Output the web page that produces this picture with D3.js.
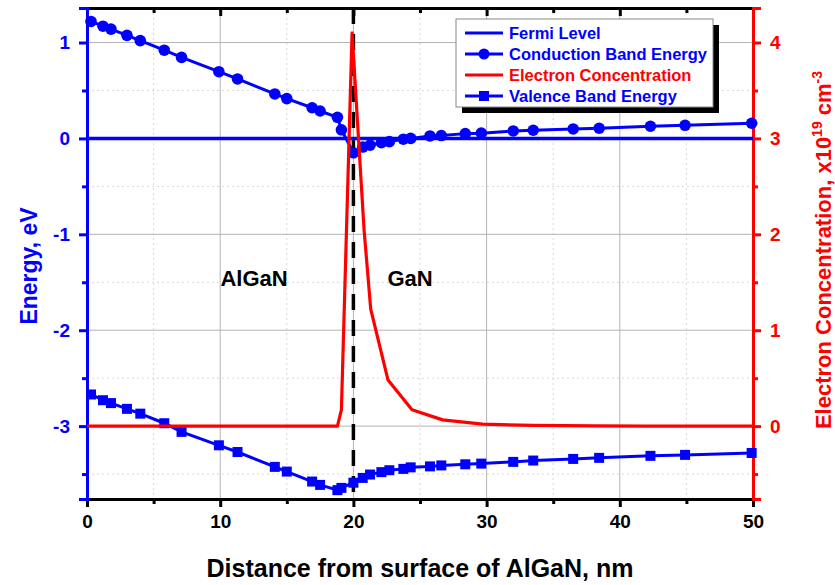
<!DOCTYPE html>
<html>
<head>
<meta charset="utf-8">
<script src="https://cdn.jsdelivr.net/npm/d3@7"></script>
<style>
  body { margin: 0; background: #fff; }
  svg { font-family: Arial, "Liberation Sans", sans-serif; font-weight: bold; }
</style>
</head>
<body>
<svg id="chart" width="835" height="585"></svg>
<script>
// band diagram samples (distance in nm, energies in eV)
const distance = [0.3, 1.2, 1.8, 3.0, 4.0, 5.8, 7.1, 9.9, 11.3, 14.1, 15.0, 16.9, 17.5, 18.8, 19.1,
  20.0, 20.7, 21.25, 22.1, 22.7, 23.75, 24.3, 25.75, 26.6, 28.4, 29.6, 32.0, 33.5, 36.5, 38.45, 42.3, 44.9, 49.9];
const conduction = [1.22, 1.17, 1.14, 1.075, 1.02, 0.92, 0.845, 0.696, 0.62, 0.464, 0.415, 0.32, 0.286, 0.22, 0.09,
  -0.15, -0.09, -0.07, -0.045, -0.033, -0.008, 0.0, 0.026, 0.03, 0.05, 0.055, 0.078, 0.085, 0.099, 0.106, 0.127, 0.137, 0.158];
const valence = [-2.67, -2.73, -2.76, -2.82, -2.87, -2.97, -3.06, -3.20, -3.27, -3.425, -3.474, -3.578, -3.613, -3.668, -3.644,
  -3.59, -3.54, -3.505, -3.48, -3.46, -3.446, -3.43, -3.42, -3.41, -3.398, -3.391, -3.373, -3.359, -3.342, -3.331, -3.31, -3.30, -3.28];
const fermiX = [0, 50];
const fermiE = [0, 0];
// electron concentration, x10^19 cm^-3
const concX = [0, 5, 10, 15, 18.8, 19.1, 19.9, 20.8, 21.3, 22.6, 24.4, 26.7, 29.7, 33.5, 38, 42, 50];
const concN = [0, 0, 0, 0, 0, 0.17, 4.1, 2.05, 1.22, 0.48, 0.17, 0.065, 0.02, 0.008, 0.003, 0, 0];

const xTicks = [0, 10, 20, 30, 40, 50];
const eTicks = [-3, -2, -1, 0, 1];
const nTicks = [0, 1, 2, 3, 4];

const svg = d3.select("#chart");
const mLeft = 87, mRight = 753, mTop = 8, mBottom = 499;
const blue = "#0000ff", red = "#ff0000";
const fmt = d => String(d);

const x = d3.scaleLinear().domain([0, 50]).range([mLeft, mRight]);
const yE = d3.scaleLinear().domain([-3.76, 1.36]).range([mBottom, mTop]);
const yN = d3.scaleLinear().domain([-0.76, 4.36]).range([mBottom, mTop]);

// grid
const minorX = d3.range(5, 50, 10);
const minorE = d3.range(-3.5, 1.4, 1);
svg.append("g").selectAll("line").data(minorX).join("line")
  .attr("x1", d => x(d)).attr("x2", d => x(d)).attr("y1", mTop).attr("y2", mBottom)
  .attr("stroke", "#d8d8d8").attr("stroke-dasharray", "2,3");
svg.append("g").selectAll("line").data(minorE).join("line")
  .attr("x1", mLeft).attr("x2", mRight).attr("y1", d => yE(d)).attr("y2", d => yE(d))
  .attr("stroke", "#d8d8d8").attr("stroke-dasharray", "2,3");
svg.append("g").selectAll("line").data(xTicks.slice(1, -1)).join("line")
  .attr("x1", d => x(d)).attr("x2", d => x(d)).attr("y1", mTop).attr("y2", mBottom)
  .attr("stroke", "#b4b4b4");
svg.append("g").selectAll("line").data(eTicks).join("line")
  .attr("x1", mLeft).attr("x2", mRight).attr("y1", d => yE(d)).attr("y2", d => yE(d))
  .attr("stroke", "#b4b4b4");

// axes
const xAxis = svg.append("g").attr("transform", `translate(0,${mBottom})`)
  .call(d3.axisBottom(x).tickValues(xTicks).tickSize(8).tickPadding(8).tickFormat(fmt));
const xMinor = svg.append("g").attr("transform", `translate(0,${mBottom})`)
  .call(d3.axisBottom(x).tickValues(minorX).tickSize(5).tickFormat(""));
const topAxis = svg.append("g").attr("transform", `translate(0,${mTop})`)
  .call(d3.axisBottom(x).tickValues(xTicks).tickSize(8).tickFormat(""));
const topMinor = svg.append("g").attr("transform", `translate(0,${mTop})`)
  .call(d3.axisBottom(x).tickValues(minorX).tickSize(5).tickFormat(""));
[xAxis, xMinor, topAxis, topMinor].forEach(g => g.selectAll("path,line").attr("stroke", "#000").attr("stroke-width", 3));
xAxis.selectAll("text").attr("fill", "#000").style("font-size", "19px").style("font-weight", "bold");

const leftAxis = svg.append("g").attr("transform", `translate(${mLeft},0)`)
  .call(d3.axisLeft(yE).tickValues(eTicks).tickSize(8).tickPadding(9).tickFormat(fmt));
const leftMinor = svg.append("g").attr("transform", `translate(${mLeft},0)`)
  .call(d3.axisLeft(yE).tickValues(minorE).tickSize(5).tickFormat(""));
[leftAxis, leftMinor].forEach(g => g.selectAll("path,line").attr("stroke", blue).attr("stroke-width", 3));
leftAxis.selectAll("text").attr("fill", blue).style("font-size", "19px").style("font-weight", "bold");

const nMinor = [-0.5, 0.5, 1.5, 2.5, 3.5];
const rightAxis = svg.append("g").attr("transform", `translate(${mRight},0)`)
  .call(d3.axisRight(yN).tickValues(nTicks).tickSize(8).tickPadding(9).tickFormat(fmt));
const rightMinor = svg.append("g").attr("transform", `translate(${mRight},0)`)
  .call(d3.axisRight(yN).tickValues(nMinor).tickSize(5).tickFormat(""));
[rightAxis, rightMinor].forEach(g => g.selectAll("path,line").attr("stroke", red).attr("stroke-width", 3));
rightAxis.selectAll("text").attr("fill", red).style("font-size", "19px").style("font-weight", "bold");

// interface line
svg.append("line")
  .attr("x1", x(20)).attr("x2", x(20)).attr("y1", mTop).attr("y2", mBottom)
  .attr("stroke", "#000").attr("stroke-width", 3.5).attr("stroke-dasharray", "16,10");

// series
const lineE = d3.line().x(d => x(d[0])).y(d => yE(d[1]));
const lineN = d3.line().x(d => x(d[0])).y(d => yN(d[1]));

svg.append("path").datum(d3.zip(fermiX, fermiE)).attr("d", lineE)
  .attr("fill", "none").attr("stroke", blue).attr("stroke-width", 3.5);

const cb = d3.zip(distance, conduction);
svg.append("path").datum(cb).attr("d", lineE)
  .attr("fill", "none").attr("stroke", blue).attr("stroke-width", 3);
svg.append("g").selectAll("circle").data(cb).join("circle")
  .attr("cx", d => x(d[0])).attr("cy", d => yE(d[1])).attr("r", 5.8).attr("fill", blue);

const vb = d3.zip(distance, valence);
svg.append("path").datum(vb).attr("d", lineE)
  .attr("fill", "none").attr("stroke", blue).attr("stroke-width", 3);
svg.append("g").selectAll("rect").data(vb).join("rect")
  .attr("x", d => x(d[0]) - 5).attr("y", d => yE(d[1]) - 5)
  .attr("width", 10).attr("height", 10).attr("fill", blue);

svg.append("path").datum(d3.zip(concX, concN)).attr("d", lineN)
  .attr("fill", "none").attr("stroke", red).attr("stroke-width", 3.2).attr("stroke-linejoin", "round");

// region labels
svg.append("text").attr("x", 254).attr("y", 286).attr("text-anchor", "middle")
  .style("font-size", "22px").text("AlGaN");
svg.append("text").attr("x", 410).attr("y", 286).attr("text-anchor", "middle")
  .style("font-size", "22px").text("GaN");

// axis titles
svg.append("text").attr("x", 420).attr("y", 577).attr("text-anchor", "middle")
  .style("font-size", "25px").text("Distance from surface of AlGaN, nm");
svg.append("text").attr("transform", "translate(37,266) rotate(-90)").attr("text-anchor", "middle")
  .attr("fill", blue).style("font-size", "23px").text("Energy, eV");
const rt = svg.append("text").attr("transform", "translate(831,250) rotate(-90)").attr("text-anchor", "middle")
  .attr("fill", red).style("font-size", "22px");
rt.append("tspan").text("Electron Concentration, x10");
rt.append("tspan").attr("dy", -9).style("font-size", "14px").text("19");
rt.append("tspan").attr("dy", 9).text(" cm");
rt.append("tspan").attr("dy", -9).style("font-size", "14px").text("-3");

// legend
const lg = svg.append("g");
lg.append("rect").attr("x", 462).attr("y", 25).attr("width", 257).attr("height", 88).attr("fill", "#000");
lg.append("rect").attr("x", 456).attr("y", 19).attr("width", 257).attr("height", 88)
  .attr("fill", "#fff").attr("stroke", "#888").attr("stroke-width", 1);
const items = [
  { name: "Fermi Level", color: blue, mark: null },
  { name: "Conduction Band Energy", color: blue, mark: "circle" },
  { name: "Electron Concentration", color: red, mark: null },
  { name: "Valence Band Energy", color: blue, mark: "square" }
];
items.forEach((it, i) => {
  const yy = 33 + i * 21;
  lg.append("line").attr("x1", 465).attr("x2", 503).attr("y1", yy).attr("y2", yy)
    .attr("stroke", it.color).attr("stroke-width", 3);
  if (it.mark === "circle") lg.append("circle").attr("cx", 484).attr("cy", yy).attr("r", 5.5).attr("fill", it.color);
  if (it.mark === "square") lg.append("rect").attr("x", 479).attr("y", yy - 5).attr("width", 10).attr("height", 10).attr("fill", it.color);
  lg.append("text").attr("x", 509).attr("y", yy + 6).attr("fill", it.color)
    .style("font-size", "16.5px").text(it.name);
});
</script>
</body>
</html>
